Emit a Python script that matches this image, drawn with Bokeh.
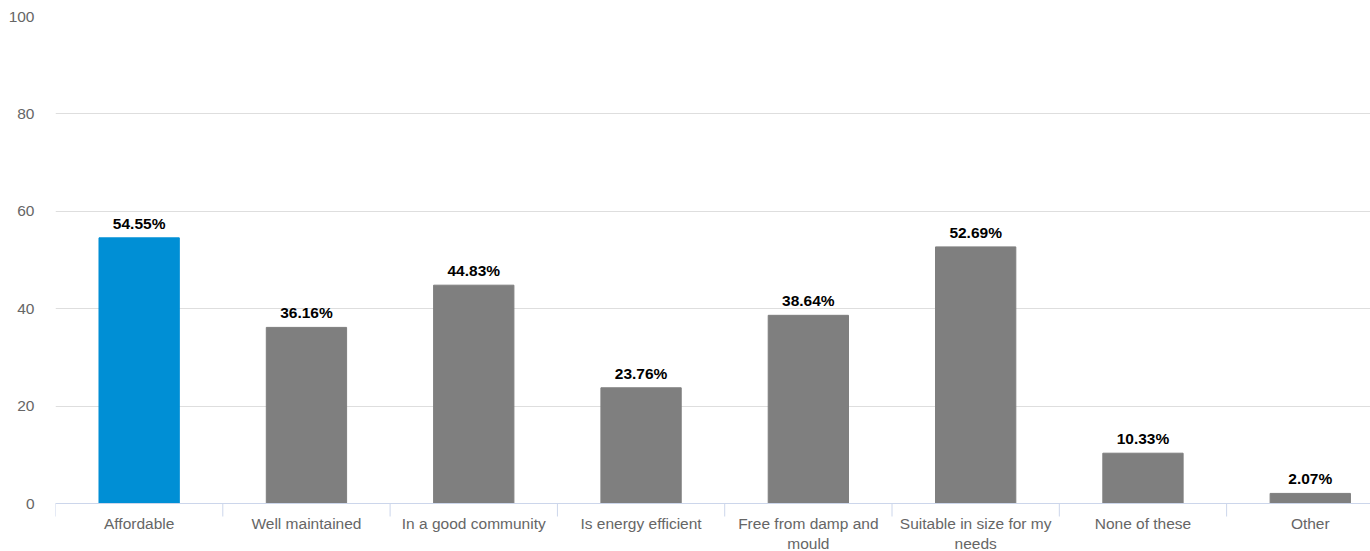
from bokeh.plotting import figure
from bokeh.models import Range1d, FixedTicker, ColumnDataSource, Span
from bokeh.core.properties import value
from bokeh.embed import file_html
from bokeh.resources import INLINE

categories = ["Affordable", "Well maintained", "In a good community", "Is energy efficient",
              "Free from damp and\nmould", "Suitable in size for my\nneeds", "None of these", "Other"]
shares = [54.55, 36.16, 44.83, 23.76, 38.64, 52.69, 10.33, 2.07]
y_ticks = [0, 20, 40, 60, 80, 100]

BLUE = "#008fd5"
GREY = "#7f7f7f"
AXIS = "#ccd6eb"
FONT = "Liberation Sans"

# frame geometry (pixels): the value axis spans 487 px, with 48 px under zero for the category names
PLOT_PX = 487.0
BELOW_PX = 48.0
TICK_PX = 13.0
px_per_unit = PLOT_PX / 100.0
y_min = -BELOW_PX / px_per_unit
tick_len = TICK_PX / px_per_unit

n = len(categories)
centers = [i + 0.5 for i in range(n)]
bounds = list(range(n + 1))
colors = [BLUE] + [GREY] * (n - 1)
labels = [f"{v:.2f}%" for v in shares]

src = ColumnDataSource(dict(x=centers, top=shares, color=colors, label=labels))
cat_src = ColumnDataSource(dict(x=centers, y=[0] * n, name=categories))
tick_src = ColumnDataSource(dict(x=bounds, y0=[0] * len(bounds), y1=[-tick_len] * len(bounds)))

p = figure(frame_width=1315, frame_height=int(PLOT_PX + BELOW_PX), output_backend="svg",
           toolbar_location=None, x_range=Range1d(0, 7.86), y_range=Range1d(y_min, 100),
           min_border_left=55, min_border_right=0, min_border_top=16, min_border_bottom=0)
p.outline_line_color = None
p.background_fill_color = "white"
p.border_fill_color = "white"
p.xaxis.visible = False

p.vbar(x="x", top="top", width=0.48, color="color", source=src)
p.text(x="x", y="top", text="label", source=src, text_align="center",
       text_baseline="bottom", y_offset=-6, text_font=value(FONT),
       text_font_style="bold", text_font_size="15.5px", text_color="#000000")

# category axis: base line, boundary ticks and names under it
p.add_layout(Span(location=0, dimension="width", line_color=AXIS, line_width=1))
p.segment(x0="x", y0="y0", x1="x", y1="y1", source=tick_src, line_color=AXIS, line_width=1)
p.text(x="x", y="y", text="name", source=cat_src, text_align="center",
       text_baseline="top", y_offset=11, text_font=value(FONT),
       text_font_size="15.5px", text_color="#666666", text_line_height=1.2)

ya = p.yaxis[0]
ya.ticker = FixedTicker(ticks=y_ticks)
ya.axis_line_color = None
ya.major_tick_line_color = None
ya.minor_tick_line_color = None
ya.major_tick_out = 0
ya.major_label_standoff = 21
ya.major_label_text_font = FONT
ya.major_label_text_font_size = "15.5px"
ya.major_label_text_color = "#666666"

p.xgrid.grid_line_color = None
p.ygrid.ticker = FixedTicker(ticks=y_ticks)
p.ygrid.grid_line_color = "#dedede"

open("out.html", "w").write(file_html(p, INLINE))
